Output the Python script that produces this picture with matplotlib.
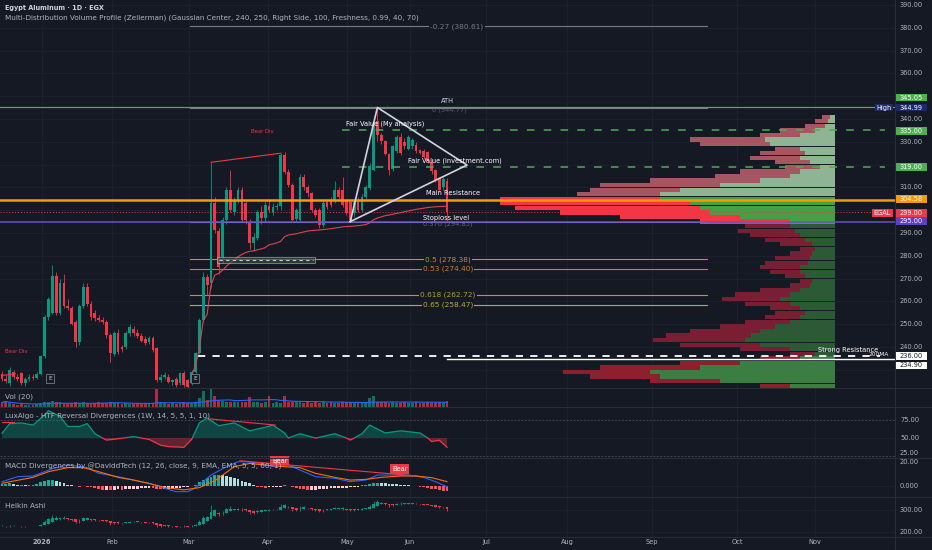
import numpy as np
import pandas as pd
import matplotlib
matplotlib.use("Agg")
import matplotlib.pyplot as plt
from matplotlib import transforms
from matplotlib.patches import Rectangle


BG = "#151924"
GRID = "#1e2230"
SEP = "#2a2e39"
TXT = "#b2b5be"
WHITE = "#d1d4dc"
UP = "#089981"
DN = "#f23645"

# daily candles, Egypt Aluminum (EGX)
opens = [228, 226, 224, 229, 227, 228.5, 224, 226, 227, 226.5,
         228, 236, 253, 255, 271, 255, 268, 258, 257, 251,
         242, 258, 266.5, 259, 254.8, 252.6, 252, 251, 245.3, 237,
         246, 240, 240, 246, 248, 246.3, 245, 243.4, 242, 244,
         239.4, 225.5, 227, 227, 224.8, 226, 224, 228.5, 225.5, 224,
         229, 237.2, 252, 270.9, 268, 303, 291, 279.6, 295.7, 308.9,
         299.4, 304.5, 308.9, 303, 295, 285.5, 288, 299.4, 296.4, 302,
         299.4, 301.5, 302, 324, 316.9, 311, 296, 295.7, 314.7, 310.3,
         307.4, 300, 300, 293.5, 303.7, 304.5, 304.5, 308.8, 308.8, 304.5,
         303.7, 298.6, 304.5, 300, 305.9, 309.6, 317.6, 339, 333, 330.5,
         324.5, 318, 326, 332, 330, 327, 328, 328.5, 326.5, 326,
         325.5, 321, 317.6, 314, 310, 313]
highs = [229.5, 227.5, 231, 230, 228, 229, 227, 228, 228, 229,
         236.5, 254, 262, 276, 273, 270, 272, 261, 258, 252,
         259, 268, 268, 260, 256, 254, 253, 252, 246, 247,
         248, 241, 247, 250, 249, 248, 246, 245, 245, 245,
         240, 228, 229, 228, 226, 227, 229, 229.5, 226, 230,
         238, 252.5, 273, 272, 321, 306, 292, 297, 310, 317.6,
         306, 310, 310, 304, 296, 290, 300, 302, 304, 305,
         303, 303, 325, 325.5, 318, 312, 301, 316, 316, 311,
         308, 301, 301, 304, 305, 306, 313, 310, 314.7, 305,
         304.5, 304.5, 306, 307, 311, 320.5, 339, 345.05, 334, 331,
         325, 328.5, 333, 334, 331.5, 333, 331.5, 330, 327, 327,
         326, 322, 318, 314.5, 314.5, 314]
lows = [225, 224, 223, 226, 225, 223.5, 223, 225, 225.5, 226,
        227.5, 235, 252, 254.5, 254, 254, 257, 256, 249.5, 240,
        241, 257, 258, 252, 251.5, 251, 250, 244, 233.6, 236,
        237, 238, 239, 245, 245, 244, 242, 241, 241.5, 238,
        224.5, 224.5, 226, 224, 223.5, 222.5, 223.5, 222.5, 222, 223.5,
        228.5, 237, 251, 263, 266, 290, 272, 277, 294, 299,
        298, 303, 295, 294, 283, 282, 287, 294, 295, 299,
        298, 300, 300, 316, 310, 295, 295, 295, 309, 306,
        299, 297, 292, 292.5, 300.5, 301.5, 303, 305, 301.5, 298,
        295, 297, 299, 299, 305, 309, 317, 330.5, 329, 324,
        315.5, 317, 325, 324, 327, 326.5, 327, 325, 324.5, 322.5,
        320.5, 316, 312.5, 308, 309, 295]
closes = [226, 225, 230, 227, 226, 224, 226, 227, 226.5, 228,
          236, 253, 261, 271, 255, 268, 258, 257, 250, 242,
          258, 266.5, 259, 253, 252.6, 252, 251, 245.3, 237.2, 246,
          238, 239, 246, 248.7, 246, 244.6, 242.4, 241.6, 244, 238.7,
          225.5, 227, 227.7, 224.8, 225.5, 223.3, 228.5, 223.3, 222.6, 229.2,
          237.2, 251.9, 270.9, 267, 303, 291.3, 275.2, 295.7, 308.9, 300,
          304.5, 308.9, 295.7, 295.7, 285.5, 288.4, 299.4, 296.4, 302.3, 300,
          301.5, 302, 324.2, 316.9, 311, 295.7, 300, 314.7, 310.3, 307.4,
          300, 298, 293.5, 303, 301.5, 302.3, 308.8, 305.9, 302.3, 298.6,
          295.5, 303.7, 300, 305.9, 310.3, 319.5, 338, 333, 330.5, 324.5,
          317.5, 328, 332, 325, 328, 332, 331, 326, 325, 323.5,
          321.5, 317, 313.2, 309, 313.5, 299]
volumes = [2.5, 3.5, 2, 1.5, 1.2, 1.5, 1, 1.2, 1, 1.5, 2,
           2.5, 3, 3.5, 3, 2.5,
           2, 1.5, 2, 2.5, 2, 3, 2, 1.5, 2, 2.5, 2, 2,
           3, 2, 2, 1.5, 2, 1.5, 1.5, 2, 1.5, 2, 1.5, 2,
           10,
           2.5, 2, 1.5, 2, 1.5, 2, 2.5, 2, 2, 3,
           5, 9, 4, 10,
           6, 4, 3.5, 3, 2.5, 3,
           2.5, 3, 3, 5.5, 3, 2.5, 2, 2.5, 6, 2, 2.5, 2, 6,
           3, 2.5, 3, 2.5, 2, 2.5, 2, 2.5, 2, 3, 2, 2.5, 2, 2, 3, 2.5, 2.5, 2, 2.5, 3, 2.5,
           5, 6,
           3, 2.5, 3, 2, 2.5, 2, 2, 2.5, 2, 2, 2.5, 2, 2, 2.5, 2, 2, 2.5, 2, 3.5]

# MACD pane (histogram per bar, lines read at sample bars)
macd_hist = [1.5, 1.5, 2, 1.5, 1, 1, 0.8, 0.8, 1, 1.5,
             3, 4, 4.5, 4.5, 4, 3, 2, 1, 0.5,
             -0.3, -0.5, -0.3, -0.5, -1, -1.5, -2,
             -3, -3, -3.2, -3, -2.5, -2.8, -2.5, -2.2, -2, -2, -1.8, -1.5, -1.2, -1.3, -2,
             -2.5, -2.5, -2.2, -2, -1.5, -1.2, -1, -0.8,
             -0.3, 1, 3, 4.5,
             6, 7, 8, 8.5, 8, 7.5, 7, 6,
             5, 4, 3, 2, 1,
             -0.5, -1, -1.2, -1, -0.8, -0.5, -0.5,
             0.5, -0.3, -0.8, -1.5,
             -2, -2.5, -3, -3, -2.8, -2.5, -2.2, -2, -1.8, -1.5, -1.5, -1.3, -1.2, -1, -0.8, -0.5,
             0.5, 1, 1.5, 2, 2.5, 2.2, 2, 1.8, 1.5, 1.2, 1, 0.8,
             0.5, 0.2, -0.2, -0.5,
             -1, -1.5, -2, -2.5, -3, -3.5, -4]
macd_bars = [0, 4, 8, 11, 13, 17, 19, 22, 25, 30, 34, 38, 42, 45, 48, 49, 51, 54,
             58, 61, 63, 67, 70, 74, 77, 81, 86, 90, 94, 97, 100, 105, 109, 112, 115]
macd_vals = [3.2, 6.9, 7.4, 10.6, 12.8, 15.6, 15, 13.6, 9.4, 6.9, 4.4, 1.9, -1.7, -4.2,
             -4.2, -2.9, 0.8, 8.1, 14.3, 18, 18, 16.7, 14.3, 15.5, 11.8, 6.9, 5.7, 3.2,
             4.4, 8.1, 8.1, 8.1, 6.4, 3.2, -0.5]
signal_bars = [0, 8, 12, 17, 21, 25, 30, 34, 38, 42, 47, 51, 55, 60, 64, 68, 73, 77,
               81, 86, 90, 94, 98, 103, 107, 111, 115]
signal_vals = [2, 6.4, 10.6, 13.6, 13.6, 10.6, 6.4, 4.4, 1.9, -1, -2.9, -1.2, 3.9, 14.3,
               16.7, 15.5, 14.3, 13.6, 9.4, 6.4, 4.4, 4.9, 6.4, 7.4, 7.4, 6.2, 3.2]

# LuxAlgo oscillator, read at sample bars
lux_bars = [0, 2, 5, 8, 11, 12, 15, 17, 20, 22, 24, 27, 30, 34, 38, 41, 43, 47, 49, 51,
            53, 56, 60, 64, 68, 70, 73, 74, 77, 81, 82, 86, 89, 90, 93, 95, 99, 103, 108,
            110, 111, 113, 115]
lux_vals = [56.5, 70, 71, 68, 82, 88, 80, 66, 66, 70, 56, 47, 49, 52, 48, 40, 38, 37, 48,
            71, 78, 67, 71, 60, 65, 68, 57, 50, 56, 50, 51, 56, 50, 47, 56, 68, 57, 60, 57,
            50, 45, 47, 37]

# volume profile rows (2-point rows), sell / buy volume in bar-width units
vp_price = list(range(341, 222, -2))
vp_sell = [2.1, 3.4, 5.2, 9.0, 10.3, 19.4, 18.1, 6.5, 11.6, 12.9,
           9.0, 9.0, 15.5, 19.4, 28.4, 31.0, 23.3, 21.4, 41.3, 49.1,
           47.8, 38.8, 31.0, 23.3, 11.6, 14.7, 12.9, 10.3, 8.3, 3.9,
           5.7, 9.0, 11.1, 10.3, 7.8, 5.2, 3.1, 5.2, 10.3, 14.2,
           15.0, 11.6, 7.8, 7.8, 9.0, 11.6, 14.2, 18.1, 22.0, 23.8,
           20.7, 12.9, 6.5, 10.3, 15.5, 25.8, 22.5, 18.1, 18.1, 7.8]
vp_buy = [1.3, 1.8, 2.6, 5.2, 9.0, 18.1, 16.8, 9.0, 7.8, 9.0,
          6.5, 3.9, 9.0, 11.6, 19.4, 29.7, 40.1, 45.2, 45.2, 37.5,
          34.9, 32.3, 24.5, 11.6, 11.6, 10.3, 9.0, 7.8, 5.9, 5.2,
          5.9, 6.5, 7.0, 9.0, 9.0, 7.8, 5.9, 6.5, 9.0, 11.6,
          14.2, 11.6, 9.0, 7.8, 9.0, 11.6, 15.5, 19.4, 21.7, 23.3,
          19.4, 11.6, 5.2, 9.0, 24.5, 34.9, 47.8, 45.2, 29.7, 11.6]

# fibonacci levels
fib_levels = ["-0.27", "0", "0.376", "0.5", "0.53", "0.618", "0.65"]
fib_prices = [380.61, 344.77, 294.85, 278.38, 274.40, 262.72, 258.47]
fib_colors = ["#787b86", "#787b86", "#9598a1", "#c98b2e", "#c08236", "#aaa032", "#b9ab3f"]

month_bars = [10.3, 28.4, 48.3, 68.7, 89.1, 105.4, 125.1, 146, 168, 190, 210]
month_labels = ["2026", "Feb", "Mar", "Apr", "May", "Jun", "Jul", "Aug", "Sep", "Oct", "Nov"]
price_ticks = list(range(230, 400, 10))
hidden_ticks = [230, 300, 320, 350]   # covered by the price tags on the axis

FIG_W, FIG_H = 932, 550
AX_W = 895
BAR_PX = 3.87
XLIM = (-2 / BAR_PX, (AX_W - 2) / BAR_PX)
FS = 4.8
BODY_W = 0.72


def px_bar(px):
    return (px - 2) / BAR_PX


def blend(ax):
    return transforms.blended_transform_factory(ax.transAxes, ax.transData)


def make_pane(fig, top, bottom, ylim):
    ax = fig.add_axes([0, 1 - bottom / FIG_H, AX_W / FIG_W, (bottom - top) / FIG_H])
    ax.set_xlim(*XLIM)
    ax.set_ylim(*ylim)
    ax.set_axis_off()
    for b in month_bars:
        ax.axvline(b, color=GRID, lw=0.6, zorder=0)
    return ax


def axis_text(ax, y, s, dy_px=0):
    tr = blend(ax) + transforms.ScaledTranslation(0, dy_px / 100, ax.figure.dpi_scale_trans)
    ax.text(900 / AX_W, y, s, transform=tr, color=TXT, fontsize=FS,
            va="center", ha="left", clip_on=False)


def price_tag(ax, y, s, fc, tc="white", x0=895, w=32, ppu=2.28):
    dy = 3.9 / ppu
    ax.add_patch(Rectangle((x0 / AX_W, y - dy), w / AX_W, 2 * dy, transform=blend(ax),
                           fc=fc, ec="none", clip_on=False, zorder=20))
    ax.text((x0 + w / 2) / AX_W, y, s, transform=blend(ax), color=tc, fontsize=FS,
            ha="center", va="center", clip_on=False, zorder=21)


def candles(ax, o, h, l, c, min_body):
    o, h, l, c = map(np.asarray, (o, h, l, c))
    x = np.arange(len(o))
    colors = np.where(c >= o, UP, DN)
    ax.vlines(x, l, h, colors=colors, lw=0.6, zorder=4)
    body = np.maximum(np.abs(c - o), min_body)
    ax.bar(x, body, bottom=np.minimum(o, c), width=BODY_W, color=colors, lw=0, zorder=5)


def main():
    fig = plt.figure(figsize=(FIG_W / 100, FIG_H / 100), dpi=100, facecolor=BG)

    # ---------------- main price pane ----------------
    ax = make_pane(fig, 0, 388, (222.0, 392.2))
    for p in price_ticks:
        ax.axhline(p, color=GRID, lw=0.6, zorder=0)
        if p not in hidden_ticks:
            axis_text(ax, p, f"{p:.2f}")

    # volume profile on the right
    anchor = px_bar(835)
    vp_p = np.array(vp_price, dtype=float)
    sell = np.array(vp_sell)
    buy = np.array(vp_buy)
    style = np.select([vp_p >= 307, vp_p >= 295, vp_p >= 237], [0, 1, 2], 3)
    sell_cols = np.array(["#a65563", "#f23645", "#7a1f33", "#8e1f2c"])[style]
    buy_cols = np.array(["#8fb494", "#43a047", "#2c5a37", "#3b7d43"])[style]
    ax.barh(vp_p, sell, left=anchor - buy - sell, height=1.85, color=sell_cols, lw=0, zorder=1)
    ax.barh(vp_p, buy, left=anchor - buy, height=1.85, color=buy_cols, lw=0, zorder=1)

    # fibonacci retracement
    f0, f1 = px_bar(190), px_bar(707)
    for lvl, fp, col in zip(fib_levels, fib_prices, fib_colors):
        ax.plot([f0, f1], [fp, fp], color=col, lw=0.8, zorder=2)
        if lvl == "0":
            ax.text(px_bar(449), fp - 0.9, f"{lvl} ({fp:.2f})", color=col, fontsize=FS,
                    ha="center", va="center", zorder=6, alpha=0.7)
        elif lvl == "0.376":
            ax.text(px_bar(448), fp - 0.8, f"{lvl} ({fp:.2f})", color=col, fontsize=FS,
                    ha="center", va="center", zorder=6, alpha=0.6)
        else:
            xl = px_bar(457) if lvl == "-0.27" else px_bar(448)
            ax.text(xl, fp, f"{lvl} ({fp:.2f})", color=col, fontsize=5.3, ha="center",
                    va="center", zorder=6,
                    bbox=dict(boxstyle="square,pad=0.15", fc=BG, ec="none"))

    # key horizontal levels
    ax.axhline(345.05, color="#4caf50", lw=0.9, zorder=3)
    ax.axhline(304.58, color="#ff9800", lw=1.8, zorder=6)
    ax.axhline(295.00, color="#6a4fd0", lw=1.1, zorder=6)
    ax.plot([XLIM[0], px_bar(872)], [299, 299], color=DN, lw=0.7, ls=(0, (1, 2)), zorder=3)
    for lv in (335.0, 319.0):
        ax.plot([px_bar(342), px_bar(885)], [lv, lv], color="#4caf50", lw=1.1,
                ls=(0, (5, 6)), zorder=6)
    ax.plot([px_bar(198), px_bar(880)], [236, 236], color="white", lw=1.3,
            ls=(0, (4, 4)), zorder=6)
    ax.plot([px_bar(447), XLIM[1]], [234.9, 234.9], color="white", lw=1.0, zorder=6)

    # candles and anchored VWAP
    candles(ax, opens, highs, lows, closes, 0.3)
    df = pd.DataFrame({"h": highs, "l": lows, "c": closes, "v": volumes})
    tp = (df.h + df.l + df.c) / 3
    start = 49
    vwap = (tp * df.v)[start:].cumsum() / df.v[start:].cumsum()
    ax.plot(vwap.index, vwap.values, color="#e0424f", lw=0.8, zorder=6)

    # drawings
    ath_i = int(np.argmax(highs))
    tri_x = [90, ath_i, px_bar(467), 90]
    tri_y = [295.0, highs[ath_i], 319.8, 295.0]
    ax.plot(tri_x, tri_y, color=WHITE, lw=1.2, zorder=7)
    ax.plot([54, 72], [highs[54], highs[72]], color=DN, lw=0.8, zorder=7)
    ax.plot([0, 3.5], [227.5, 228.2], color=DN, lw=0.8, zorder=7)
    ax.add_patch(Rectangle((px_bar(217), 276.7), px_bar(315) - px_bar(217), 2.7,
                           fc="#3c4a3e", ec="#c8ccd0", lw=0.6, alpha=0.6, zorder=6))
    ax.plot([px_bar(219), px_bar(313)], [278.0, 278.0], color="#c8ccd0", lw=0.8,
            ls=(0, (3, 3)), zorder=6)
    for eb in (12.4, 49.9):
        ax.text(eb, 226.3, "E", color=WHITE, fontsize=4.2, ha="center", va="center", zorder=8,
                bbox=dict(boxstyle="square,pad=0.35", fc=BG, ec="#787b86", lw=0.6))

    notes = [
        (px_bar(16), 237.8, "Bear Div", DN, 3.8),
        (px_bar(262), 334.3, "Bear Div", DN, 3.8),
        (px_bar(447), 347.9, "ATH", WHITE, FS),
        (px_bar(385), 337.8, "Fair Value (My analysis)", "white", FS),
        (px_bar(455), 321.6, "Fair Value (investment.com)", "white", FS),
        (px_bar(453), 307.6, "Main Resistance", "white", FS),
        (px_bar(446), 296.4, "Stoploss level", "white", FS),
        (px_bar(848), 238.8, "Strong Resistance", "white", FS),
        (px_bar(879), 236.9, "200MA", "white", FS - 0.6),
    ]
    for nx, ny, s, col, fs in notes:
        ax.text(nx, ny, s, color=col, fontsize=fs, ha="center", va="center", zorder=9,
                clip_on=False)

    # right axis tags
    price_tag(ax, 349.4, "345.05", "#4caf50")
    price_tag(ax, 345.0, "High", "#1e2a66", x0=875, w=18)
    price_tag(ax, 345.0, "344.99", "#1e2a66")
    price_tag(ax, 334.7, "335.00", "#4caf50")
    price_tag(ax, 319.0, "319.00", "#4caf50")
    price_tag(ax, 304.9, "304.58", "#ff9800")
    price_tag(ax, 298.8, "EGAL", DN, x0=872, w=21)
    price_tag(ax, 298.8, "299.00", DN)
    price_tag(ax, 295.3, "295.00", "#5b3fc4")
    price_tag(ax, 236.0, "236.00", "white", tc="#131722")
    price_tag(ax, 231.9, "234.90", "white", tc="#131722")

    # ---------------- volume pane ----------------
    axv = make_pane(fig, 388, 407, (0, 10.5))
    vcol = np.where(np.array(closes) >= np.array(opens), UP, DN)
    axv.bar(np.arange(len(volumes)), volumes, width=BODY_W, color=vcol, alpha=0.7, lw=0, zorder=2)
    vma = pd.Series(volumes).rolling(20, min_periods=1).mean()
    axv.plot(vma.index, vma.values, color="#2962ff", lw=0.8, zorder=3)

    # ---------------- LuxAlgo pane ----------------
    axl = make_pane(fig, 407, 458, (22.2, 93.1))
    axl.axhline(50, color=GRID, lw=0.6, zorder=0)
    for lv in (75, 25):
        axl.axhline(lv, color="#787b86", lw=0.5, ls=(0, (3, 2)), alpha=0.6, zorder=1)
    lb = np.array(lux_bars)
    lv_ = np.array(lux_vals)
    axl.fill_between(lb, lv_, 50, where=lv_ >= 50, interpolate=True, color=UP, alpha=0.35, lw=0)
    axl.fill_between(lb, lv_, 50, where=lv_ <= 50, interpolate=True, color=DN, alpha=0.35, lw=0)
    l_up, = axl.plot(lb, lv_, color=UP, lw=0.9, zorder=3)
    l_dn, = axl.plot(lb, lv_, color=DN, lw=0.9, zorder=3)
    l_up.set_clip_path(Rectangle((-10, 50), 300, 60, transform=axl.transData))
    l_dn.set_clip_path(Rectangle((-10, 0), 300, 50, transform=axl.transData))
    axl.plot([0, 3], [72, 72], color=DN, lw=0.8, zorder=4)
    axl.plot([53.8, 70.6], [76.5, 68], color=DN, lw=0.8, zorder=4)
    axis_text(axl, 75, "75.00")
    axis_text(axl, 50, "50.00")
    axis_text(axl, 25, "25.00", dy_px=2.5)

    # ---------------- MACD pane ----------------
    axm = make_pane(fig, 458, 497, (-8.15, 20.74))
    axm.axhline(0, color=GRID, lw=0.6, zorder=0)
    hist = np.array(macd_hist)
    prev = np.concatenate([[0], hist[:-1]])
    hcol = np.where(hist >= 0, np.where(hist >= prev, "#26a69a", "#b2dfdb"),
                    np.where(hist < prev, "#ff5252", "#ffcdd2"))
    axm.bar(np.arange(len(hist)), hist, width=BODY_W, color=hcol, lw=0, zorder=2)
    axm.plot(macd_bars, macd_vals, color="#2962ff", lw=0.8, zorder=3)
    axm.plot(signal_bars, signal_vals, color="#ff6d00", lw=0.8, zorder=3)
    axm.plot([61.5, 107.2], [18.7, 7.4], color=DN, lw=0.8, zorder=4)
    for bx, by in ((71.8, 18.7), (102.8, 12.6)):
        axm.text(bx, by, "Bear", color="white", fontsize=FS, ha="center", va="center",
                 zorder=6, clip_on=False,
                 bbox=dict(boxstyle="square,pad=0.25", fc=DN, ec="none"))
    axis_text(axm, 20, "20.00", dy_px=-3.5)
    axis_text(axm, 0, "0.000")

    # ---------------- Heikin Ashi pane ----------------
    axh = make_pane(fig, 497, 537, (177, 359))
    for v in (300, 200):
        axh.axhline(v, color=GRID, lw=0.6, zorder=0)
        axis_text(axh, v, f"{v:.2f}")
    o, h, l, c = map(np.asarray, (opens, highs, lows, closes))
    ha_c = (o + h + l + c) / 4
    ha_o = np.empty_like(ha_c)
    ha_o[0] = (o[0] + c[0]) / 2
    for i in range(1, len(ha_c)):
        ha_o[i] = (ha_o[i - 1] + ha_c[i - 1]) / 2
    ha_h = np.maximum.reduce([h, ha_o, ha_c])
    ha_l = np.minimum.reduce([l, ha_o, ha_c])
    candles(axh, ha_o, ha_h, ha_l, ha_c, 2.0)

    # x axis month labels
    xtr = transforms.blended_transform_factory(axh.transData, fig.transFigure)
    for b, lab in zip(month_bars, month_labels):
        axh.text(b, 1 - 542 / FIG_H, lab, transform=xtr, color=TXT, fontsize=FS,
                 ha="center", va="center", clip_on=False,
                 fontweight="bold" if lab == "2026" else "normal")

    # pane separators
    for yy in (388, 407, 458, 497, 537):
        fig.add_artist(plt.Line2D([0, 1], [1 - yy / FIG_H] * 2, transform=fig.transFigure,
                                  color=SEP, lw=0.7))
    fig.add_artist(plt.Line2D([AX_W / FIG_W] * 2, [0, 1], transform=fig.transFigure,
                              color=SEP, lw=0.7))

    # titles
    fig.text(5 / FIG_W, 1 - 8 / FIG_H, "Egypt Aluminum · 1D · EGX", color=WHITE,
             fontsize=4.7, fontweight="bold", va="center")
    fig.text(5 / FIG_W, 1 - 18 / FIG_H,
             "Multi-Distribution Volume Profile (Zeilerman) (Gaussian Center, 240, 250, "
             "Right Side, 100, Freshness, 0.99, 40, 70)", color=TXT, fontsize=5.2, va="center")
    fig.text(5 / FIG_W, 1 - 397 / FIG_H, "Vol (20)", color=TXT, fontsize=5.2, va="center")
    fig.text(5 / FIG_W, 1 - 416 / FIG_H,
             "LuxAlgo - HTF Reversal Divergences (1W, 14, 5, 5, 1, 10)", color=TXT,
             fontsize=5.2, va="center")
    fig.text(5 / FIG_W, 1 - 466 / FIG_H,
             "MACD Divergences by @DaviddTech (12, 26, close, 9, EMA, EMA, 5, 5, 60, 1)",
             color=TXT, fontsize=5.2, va="center")
    fig.text(5 / FIG_W, 1 - 506 / FIG_H, "Heikin Ashi", color=TXT, fontsize=5.2, va="center")

    fig.savefig("out.png", dpi=100, facecolor=BG)
    return 0


if __name__ == "__main__":
    main()
